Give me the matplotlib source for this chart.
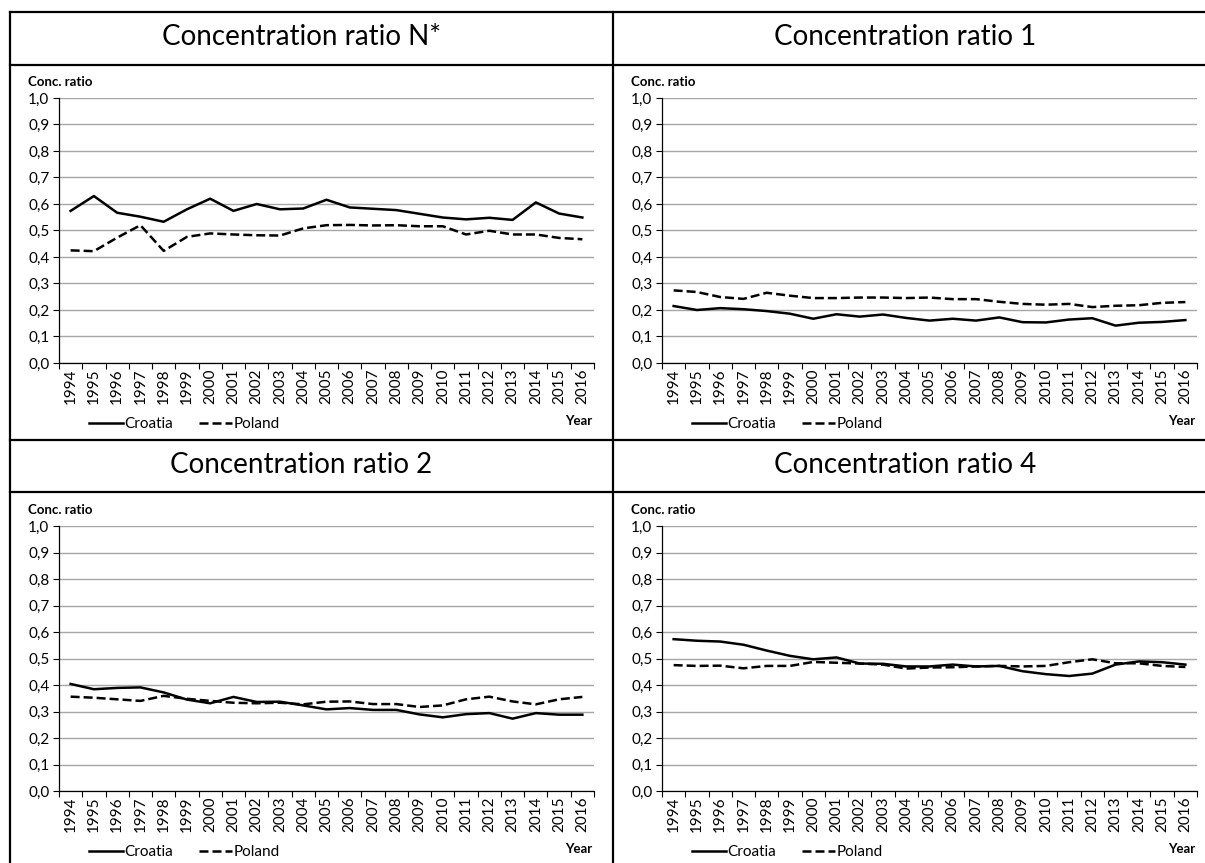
import matplotlib.pyplot as plt
import numpy as np
from matplotlib.lines import Line2D

# data
years = [str(y) for y in range(1994, 2017)]
y_ticks = [0.0, 0.1, 0.2, 0.3, 0.4, 0.5, 0.6, 0.7, 0.8, 0.9, 1.0]
y_tick_labels = ["0,0", "0,1", "0,2", "0,3", "0,4", "0,5", "0,6", "0,7", "0,8", "0,9", "1,0"]

titles = ["Concentration ratio N*", "Concentration ratio 1",
          "Concentration ratio 2", "Concentration ratio 4"]

croatia_nstar = [0.574, 0.630, 0.567, 0.552, 0.533, 0.580, 0.620, 0.574, 0.600, 0.580, 0.583, 0.616,
                 0.587, 0.582, 0.577, 0.563, 0.549, 0.542, 0.548, 0.540, 0.606, 0.564, 0.549]
poland_nstar = [0.425, 0.422, 0.473, 0.520, 0.423, 0.476, 0.489, 0.485, 0.482, 0.481, 0.508, 0.520,
                0.521, 0.519, 0.520, 0.516, 0.516, 0.485, 0.499, 0.485, 0.485, 0.472, 0.467]

croatia_cr1 = [0.215, 0.200, 0.207, 0.203, 0.196, 0.186, 0.167, 0.184, 0.175, 0.183, 0.170, 0.160,
               0.167, 0.160, 0.172, 0.154, 0.153, 0.164, 0.169, 0.141, 0.152, 0.155, 0.162]
poland_cr1 = [0.274, 0.268, 0.249, 0.242, 0.265, 0.254, 0.245, 0.245, 0.247, 0.247, 0.245, 0.247,
              0.241, 0.241, 0.231, 0.223, 0.220, 0.223, 0.211, 0.216, 0.218, 0.227, 0.230]

croatia_cr2 = [0.404, 0.384, 0.389, 0.391, 0.372, 0.345, 0.331, 0.355, 0.336, 0.337, 0.323, 0.308,
               0.313, 0.306, 0.306, 0.289, 0.278, 0.290, 0.294, 0.273, 0.294, 0.288, 0.288]
poland_cr2 = [0.356, 0.352, 0.346, 0.340, 0.359, 0.348, 0.340, 0.333, 0.331, 0.333, 0.327, 0.337,
              0.338, 0.328, 0.328, 0.317, 0.323, 0.346, 0.356, 0.338, 0.327, 0.346, 0.355]

croatia_cr4 = [0.573, 0.567, 0.564, 0.552, 0.530, 0.510, 0.497, 0.504, 0.481, 0.480, 0.470, 0.470,
               0.477, 0.470, 0.472, 0.452, 0.441, 0.434, 0.443, 0.477, 0.489, 0.486, 0.477]
poland_cr4 = [0.475, 0.472, 0.473, 0.463, 0.472, 0.472, 0.487, 0.484, 0.481, 0.477, 0.462, 0.466,
              0.467, 0.470, 0.472, 0.470, 0.472, 0.486, 0.497, 0.482, 0.482, 0.472, 0.468]

series = [(croatia_nstar, poland_nstar), (croatia_cr1, poland_cr1),
          (croatia_cr2, poland_cr2), (croatia_cr4, poland_cr4)]

plt.rcParams['font.family'] = ['Lato', 'DejaVu Sans']

W, H = 1205, 863
fig = plt.figure(figsize=(W / 100, H / 100), dpi=100)

def fx(px):
    return px / W

def fy(py):
    return 1 - py / H

# panel layout in pixels
col_left = [59, 662]
cell_left = [10, 613]
title_cx = [301, 905]
row_top = [12, 440]
ax_w, ax_h = 535, 265
ax_top_off = 86  # from row top to y=1.0

x = np.arange(len(years))

for i, (title, (cro, pol)) in enumerate(zip(titles, series)):
    r, c = divmod(i, 2)
    left = col_left[c]
    top = row_top[r] + ax_top_off
    ax = fig.add_axes([fx(left), fy(top + ax_h), fx(ax_w), ax_h / H])

    ax.plot(x, cro, color='black', lw=1.8, solid_joinstyle='round', label='Croatia')
    ax.plot(x, pol, color='black', lw=1.8, dashes=(3.6, 1.6), label='Poland')

    ax.set_xlim(-0.5, len(years) - 0.5)
    ax.set_ylim(0, 1)
    ax.set_yticks(y_ticks)
    ax.set_yticklabels(y_tick_labels, fontsize=11)
    ax.set_xticks(x)
    ax.set_xticklabels(years, rotation=90, fontsize=11)
    ax.set_xticks(np.arange(-0.5, len(years)), minor=True)
    ax.tick_params(axis='x', which='major', length=0, pad=4)
    ax.tick_params(axis='x', which='minor', length=4, width=0.8, direction='out')
    ax.tick_params(axis='y', length=4, width=0.8, pad=3)

    ax.grid(axis='y', color='#a6a6a6', lw=1.0)
    ax.set_axisbelow(True)
    for s in ['top', 'right']:
        ax.spines[s].set_visible(False)
    ax.spines['left'].set_linewidth(0.9)
    ax.spines['bottom'].set_linewidth(0.9)

    # title cell
    fig.text(fx(title_cx[c]), fy(row_top[r] + 25), title,
             ha='center', va='center', fontsize=20)

    fig.text(fx(left - 31), fy(top - 16), "Conc. ratio", fontsize=9.5,
             fontweight='bold', ha='left', va='center')
    fig.text(fx(left + ax_w - 2), fy(row_top[r] + 409), "Year", fontsize=9.5,
             fontweight='bold', ha='right', va='center')

    ax.legend(loc='center left', bbox_to_anchor=(fx(left + 30), fy(row_top[r] + 412)),
              bbox_transform=fig.transFigure, ncol=2, frameon=False, fontsize=11,
              handlelength=2.2, handletextpad=0.1, columnspacing=1.7,
              borderpad=0, borderaxespad=0)

# table borders
border = dict(color='black', lw=1.6, transform=fig.transFigure)
for yy in [12, 65, 440, 492]:
    fig.add_artist(Line2D([fx(10), 1], [fy(yy), fy(yy)], **border))
for xx in [10, 613]:
    fig.add_artist(Line2D([fx(xx), fx(xx)], [fy(12), 0], **border))

plt.savefig("out.png", dpi=100)
